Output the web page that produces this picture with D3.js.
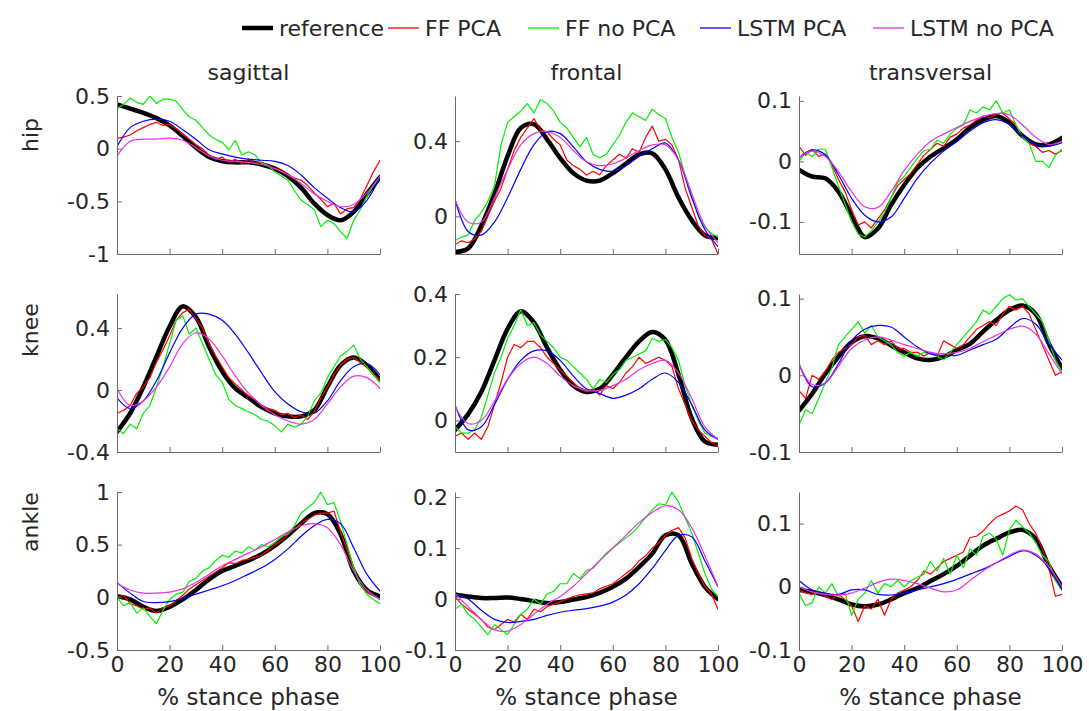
<!DOCTYPE html>
<html>
<head>
<meta charset="utf-8">
<script src="https://cdn.jsdelivr.net/npm/d3@7"></script>
<style>
  body { margin: 0; background: #fff; }
  text { font-family: "DejaVu Sans", sans-serif; fill: #262626; }
</style>
</head>
<body>
<svg id="fig" width="1089" height="711"></svg>
<script>
// ---- data ----
const pctCoarse = [0,5,10,15,20,25,30,35,40,45,50,55,60,65,70,75,80,85,90,95,100];
const pctFine = [0,2.5,5,7.5,10,12.5,15,17.5,20,22.5,25,27.5,30,32.5,35,37.5,40,42.5,45,47.5,50,
                 52.5,55,57.5,60,62.5,65,67.5,70,72.5,75,77.5,80,82.5,85,87.5,90,92.5,95,97.5,100];
const xTicks = [0,20,40,60,80,100];
const joints = ["hip","knee","ankle"];
const planes = ["sagittal","frontal","transversal"];
const methodNames = ["reference","FF PCA","FF no PCA","LSTM PCA","LSTM no PCA"];

// y limits and ticks per panel (row = joint, col = plane)
const yLimits = [[[-1,0.5],[-0.2,0.64],[-0.153,0.108]],
                 [[-0.4,0.62],[-0.1,0.4],[-0.1,0.106]],
                 [[-0.5,1],[-0.1,0.21],[-0.1,0.15]]];
const yTickVals = [[[-1,-0.5,0,0.5],[0,0.4],[-0.1,0,0.1]],
                   [[-0.4,0,0.4],[0,0.2,0.4],[-0.1,0,0.1]],
                   [[-0.5,0,0.5,1],[-0.1,0,0.1,0.2],[-0.1,0,0.1]]];

// hip sagittal
const hipSagRef = [0.42,0.38,0.34,0.29,0.22,0.12,0.01,-0.08,-0.12,-0.13,-0.13,-0.15,-0.19,-0.26,-0.37,-0.52,-0.63,-0.68,-0.6,-0.43,-0.27];
const hipSagLstmPca = [0.02,0.2,0.26,0.28,0.26,0.18,0.09,-0.01,-0.05,-0.08,-0.1,-0.11,-0.12,-0.16,-0.25,-0.37,-0.47,-0.56,-0.6,-0.49,-0.27];
const hipSagLstmNoPca = [-0.07,0.07,0.09,0.09,0.1,0.08,0.01,-0.07,-0.11,-0.12,-0.13,-0.15,-0.19,-0.25,-0.33,-0.43,-0.5,-0.55,-0.53,-0.42,-0.26];
const hipSagFfPca = [0.1,0.11,0.13,0.17,0.2,0.23,0.25,0.22,0.23,0.19,0.14,0.09,0.04,0.0,-0.06,-0.1,-0.08,-0.13,-0.1,-0.14,-0.1,
                     -0.14,-0.13,-0.16,-0.19,-0.2,-0.25,-0.28,-0.3,-0.35,-0.42,-0.48,-0.55,-0.52,-0.62,-0.57,-0.56,-0.48,-0.35,-0.22,-0.11];
const hipSagFfNoPca = [0.38,0.42,0.48,0.44,0.42,0.5,0.43,0.47,0.47,0.45,0.37,0.3,0.27,0.2,0.13,0.09,0.06,-0.01,0.08,-0.06,-0.03,
                       -0.06,-0.14,-0.16,-0.22,-0.26,-0.3,-0.4,-0.49,-0.53,-0.58,-0.74,-0.68,-0.71,-0.79,-0.85,-0.68,-0.58,-0.45,-0.35,-0.27];

// hip frontal
const hipFroRef = [-0.19,-0.17,-0.05,0.12,0.32,0.47,0.49,0.41,0.31,0.23,0.19,0.19,0.23,0.28,0.33,0.335,0.25,0.1,-0.02,-0.1,-0.115];
const hipFroLstmPca = [0.09,-0.08,-0.1,-0.03,0.1,0.25,0.38,0.45,0.44,0.37,0.29,0.25,0.24,0.27,0.32,0.36,0.39,0.3,0.1,-0.07,-0.16];
const hipFroLstmNoPca = [0.09,-0.03,-0.03,0.1,0.25,0.38,0.44,0.45,0.42,0.35,0.29,0.27,0.28,0.31,0.35,0.38,0.38,0.3,0.12,-0.05,-0.14];
const hipFroFfPca = [-0.15,-0.13,-0.14,-0.12,-0.08,0.0,0.08,0.15,0.25,0.35,0.42,0.47,0.52,0.46,0.45,0.41,0.38,0.3,0.27,0.25,0.22,
                     0.24,0.22,0.27,0.3,0.33,0.31,0.36,0.34,0.42,0.48,0.4,0.41,0.38,0.3,0.15,0.05,-0.05,-0.1,-0.12,-0.2];
const hipFroFfNoPca = [-0.13,-0.11,-0.1,-0.02,0.02,0.08,0.16,0.38,0.5,0.53,0.56,0.6,0.55,0.62,0.6,0.56,0.5,0.47,0.42,0.37,0.42,
                       0.33,0.31,0.33,0.38,0.43,0.5,0.55,0.53,0.51,0.57,0.54,0.52,0.42,0.34,0.22,0.12,0.0,-0.06,-0.09,-0.11];

// hip transversal
const hipTraRef = [-0.014,-0.025,-0.028,-0.05,-0.089,-0.125,-0.111,-0.072,-0.039,-0.011,0.008,0.022,0.036,0.056,0.069,0.075,0.064,0.042,0.028,0.028,0.039];
const hipTraLstmPca = [0.006,0.019,0.011,-0.022,-0.061,-0.089,-0.1,-0.092,-0.061,-0.028,-0.003,0.017,0.033,0.05,0.064,0.069,0.061,0.042,0.028,0.025,0.031];
const hipTraLstmNoPca = [0.006,0.017,0.008,-0.017,-0.05,-0.075,-0.076,-0.05,-0.015,0.012,0.033,0.045,0.056,0.066,0.074,0.079,0.077,0.06,0.04,0.028,0.033];
const hipTraFfPca = [0.025,0.01,0.02,0.008,0.012,-0.005,-0.03,-0.05,-0.08,-0.105,-0.1,-0.11,-0.095,-0.08,-0.06,-0.04,-0.03,-0.02,-0.005,0.01,0.02,
                     0.03,0.025,0.04,0.045,0.055,0.06,0.068,0.075,0.072,0.078,0.08,0.07,0.06,0.04,0.03,0.025,0.015,0.018,0.012,0.018];
const hipTraFfNoPca = [0.0,0.015,0.008,0.02,0.02,-0.01,-0.04,-0.07,-0.1,-0.12,-0.125,-0.115,-0.1,-0.085,-0.06,-0.035,-0.025,-0.01,0.005,0.018,0.02,
                       0.035,0.03,0.045,0.055,0.06,0.085,0.08,0.09,0.085,0.1,0.08,0.085,0.06,0.04,0.03,0.0,0.0,-0.01,0.01,0.02];

// knee sagittal
const kneeSagRef = [-0.27,-0.15,0.02,0.215,0.41,0.54,0.47,0.28,0.12,0.01,-0.05,-0.11,-0.15,-0.17,-0.17,-0.13,0.02,0.16,0.21,0.16,0.065];
const kneeSagLstmPca = [-0.05,-0.12,-0.07,0.06,0.24,0.4,0.49,0.49,0.45,0.36,0.24,0.11,-0.01,-0.09,-0.14,-0.15,-0.07,0.06,0.15,0.17,0.1];
const kneeSagLstmNoPca = [0.01,-0.1,-0.07,0.02,0.15,0.3,0.37,0.33,0.22,0.09,-0.02,-0.1,-0.16,-0.2,-0.22,-0.19,-0.09,0.02,0.09,0.08,0.01];
const kneeSagFfPca = [-0.15,-0.13,-0.1,-0.02,0.02,0.08,0.18,0.26,0.35,0.45,0.5,0.52,0.46,0.4,0.3,0.22,0.15,0.08,0.04,0.0,-0.04,
                      -0.06,-0.1,-0.12,-0.13,-0.16,-0.15,-0.18,-0.16,-0.19,-0.14,-0.05,0.02,0.1,0.16,0.2,0.21,0.18,0.15,0.1,0.07];
const kneeSagFfNoPca = [-0.25,-0.28,-0.22,-0.25,-0.15,-0.1,0.02,0.15,0.3,0.45,0.48,0.36,0.4,0.3,0.2,0.1,0.05,-0.06,-0.1,-0.12,-0.14,
                        -0.16,-0.19,-0.2,-0.23,-0.27,-0.22,-0.24,-0.22,-0.17,-0.07,-0.02,0.08,0.15,0.22,0.25,0.29,0.2,0.15,0.1,0.05];

// knee frontal
const kneeFroRef = [-0.03,0.02,0.09,0.19,0.29,0.345,0.31,0.23,0.16,0.11,0.09,0.1,0.145,0.2,0.25,0.28,0.255,0.145,0.007,-0.067,-0.077];
const kneeFroLstmPca = [0.05,-0.03,-0.02,0.05,0.13,0.19,0.22,0.22,0.19,0.14,0.1,0.085,0.07,0.08,0.1,0.13,0.15,0.12,0.05,-0.03,-0.06];
const kneeFroLstmNoPca = [0.045,-0.01,0.0,0.06,0.13,0.18,0.2,0.18,0.14,0.11,0.095,0.095,0.11,0.13,0.16,0.18,0.19,0.15,0.07,-0.02,-0.06];
const kneeFroFfPca = [-0.05,-0.04,-0.06,-0.04,-0.06,-0.02,0.05,0.12,0.2,0.24,0.23,0.25,0.25,0.23,0.2,0.18,0.16,0.14,0.12,0.1,0.09,
                      0.1,0.08,0.11,0.1,0.12,0.15,0.17,0.2,0.18,0.19,0.2,0.19,0.17,0.1,0.05,0.0,-0.03,-0.05,-0.07,-0.08];
const kneeFroFfNoPca = [-0.02,-0.04,-0.04,-0.03,0.01,0.08,0.15,0.2,0.26,0.3,0.35,0.3,0.31,0.27,0.25,0.23,0.2,0.19,0.17,0.15,0.13,
                        0.1,0.13,0.12,0.145,0.16,0.19,0.2,0.21,0.22,0.26,0.25,0.256,0.23,0.19,0.11,0.05,0.0,-0.04,-0.05,-0.056];

// knee transversal
const kneeTraRef = [-0.046,-0.024,0.002,0.024,0.043,0.051,0.048,0.039,0.03,0.022,0.02,0.024,0.033,0.041,0.057,0.072,0.085,0.091,0.08,0.041,0.009];
const kneeTraLstmPca = [0.015,-0.015,-0.01,0.015,0.045,0.06,0.065,0.063,0.05,0.037,0.028,0.026,0.026,0.033,0.04,0.047,0.062,0.074,0.067,0.041,0.02];
const kneeTraLstmNoPca = [0.015,-0.012,-0.01,0.012,0.035,0.046,0.05,0.046,0.04,0.035,0.03,0.028,0.03,0.035,0.044,0.052,0.06,0.064,0.054,0.028,0.002];
const kneeTraFfPca = [-0.02,-0.03,0.0,-0.005,0.005,0.02,0.03,0.035,0.04,0.05,0.052,0.04,0.045,0.04,0.045,0.035,0.035,0.03,0.03,0.025,0.03,
                      0.025,0.045,0.04,0.035,0.04,0.05,0.06,0.065,0.07,0.065,0.08,0.09,0.085,0.09,0.08,0.06,0.04,0.02,0.0,0.005];
const kneeTraFfNoPca = [-0.065,-0.045,-0.05,-0.03,-0.01,0.01,0.04,0.05,0.06,0.07,0.055,0.065,0.05,0.045,0.04,0.03,0.025,0.03,0.025,0.03,0.028,
                        0.025,0.02,0.03,0.04,0.05,0.06,0.07,0.085,0.08,0.09,0.1,0.105,0.098,0.1,0.09,0.08,0.07,0.045,0.02,0.005];

// ankle sagittal
const ankSagRef = [0.01,-0.02,-0.09,-0.13,-0.09,-0.02,0.07,0.17,0.25,0.3,0.35,0.41,0.49,0.59,0.7,0.8,0.79,0.6,0.25,0.07,0.01];
const ankSagLstmPca = [0.14,0.04,-0.04,-0.05,-0.04,-0.01,0.03,0.07,0.11,0.16,0.22,0.28,0.36,0.46,0.58,0.68,0.74,0.7,0.47,0.22,0.06];
const ankSagLstmNoPca = [0.13,0.07,0.04,0.04,0.05,0.08,0.14,0.22,0.3,0.36,0.42,0.48,0.55,0.62,0.68,0.7,0.66,0.5,0.25,0.07,-0.02];
const ankSagFfPca = [0.0,0.02,-0.06,-0.08,-0.11,-0.1,-0.15,-0.1,-0.08,-0.03,0.02,0.08,0.12,0.16,0.2,0.24,0.28,0.33,0.32,0.35,0.36,
                     0.38,0.4,0.45,0.5,0.54,0.6,0.65,0.7,0.74,0.78,0.8,0.8,0.82,0.62,0.45,0.28,0.12,0.05,0.02,-0.02];
const ankSagFfNoPca = [0.0,-0.08,-0.05,-0.15,-0.1,-0.18,-0.25,-0.12,-0.02,0.03,0.05,0.15,0.18,0.25,0.28,0.35,0.4,0.38,0.44,0.42,0.48,
                       0.45,0.5,0.48,0.52,0.58,0.6,0.68,0.8,0.85,0.9,1.0,0.88,0.9,0.72,0.5,0.28,0.12,0.03,-0.02,-0.06];

// ankle frontal
const ankFroRef = [0.009,0.005,0.002,0.002,0.003,0.0,-0.004,-0.008,-0.006,-0.001,0.004,0.012,0.024,0.04,0.063,0.089,0.125,0.125,0.07,0.024,0.0];
const ankFroLstmPca = [0.01,0.0,-0.022,-0.04,-0.046,-0.044,-0.04,-0.032,-0.026,-0.022,-0.019,-0.014,-0.006,0.008,0.03,0.06,0.095,0.125,0.122,0.075,0.024];
const ankFroLstmNoPca = [0.01,-0.015,-0.04,-0.06,-0.063,-0.05,-0.03,-0.01,0.005,0.025,0.05,0.075,0.1,0.125,0.15,0.17,0.183,0.175,0.14,0.085,0.025];
const ankFroFfPca = [0.005,-0.01,-0.02,-0.03,-0.04,-0.055,-0.06,-0.05,-0.04,-0.045,-0.03,-0.04,-0.02,-0.025,-0.015,-0.01,-0.005,0.0,0.005,0.008,0.01,
                     0.012,0.02,0.025,0.03,0.04,0.05,0.06,0.075,0.085,0.1,0.11,0.125,0.135,0.14,0.12,0.08,0.05,0.025,0.01,-0.02];
const ankFroFfNoPca = [-0.02,-0.01,-0.03,-0.04,-0.055,-0.07,-0.05,-0.06,-0.07,-0.05,-0.03,-0.02,0.0,-0.01,0.01,0.015,0.03,0.03,0.05,0.04,0.056,
                       0.06,0.076,0.09,0.1,0.11,0.12,0.13,0.144,0.16,0.175,0.187,0.185,0.21,0.19,0.16,0.13,0.09,0.05,0.02,0.005];

// ankle transversal
const ankTraRef = [-0.005,-0.008,-0.013,-0.02,-0.028,-0.031,-0.028,-0.02,-0.01,-0.002,0.009,0.02,0.033,0.049,0.065,0.076,0.086,0.09,0.076,0.033,0.0];
const ankTraLstmPca = [0.01,-0.005,-0.01,-0.012,-0.005,-0.005,-0.012,-0.013,-0.01,-0.005,0.0,0.005,0.012,0.02,0.028,0.038,0.048,0.057,0.05,0.03,-0.005];
const ankTraLstmNoPca = [0.0,-0.008,-0.012,-0.013,-0.01,-0.002,0.007,0.012,0.01,0.005,-0.002,-0.008,-0.005,0.01,0.025,0.038,0.05,0.058,0.052,0.032,0.0];
const ankTraFfPca = [-0.005,-0.01,-0.012,-0.008,-0.015,-0.02,-0.012,-0.02,-0.03,-0.055,-0.03,-0.035,-0.02,-0.045,-0.02,-0.01,-0.005,0.0,0.01,0.025,0.02,
                     0.03,0.04,0.045,0.05,0.055,0.078,0.08,0.088,0.1,0.11,0.115,0.12,0.128,0.122,0.1,0.085,0.06,0.03,-0.015,-0.012];
const ankTraFfNoPca = [-0.01,-0.03,-0.025,0.0,-0.01,0.005,-0.015,-0.01,-0.045,-0.02,-0.01,0.01,-0.01,0.005,0.0,0.01,0.0,0.01,0.015,0.02,0.04,
                       0.025,0.045,0.02,0.05,0.03,0.06,0.05,0.08,0.085,0.075,0.05,0.09,0.105,0.095,0.085,0.07,0.05,0.04,0.01,-0.005];

// per panel, in legend order: reference, FF PCA, FF no PCA, LSTM PCA, LSTM no PCA
const panelSeries = [
  [[hipSagRef,hipSagFfPca,hipSagFfNoPca,hipSagLstmPca,hipSagLstmNoPca],
   [hipFroRef,hipFroFfPca,hipFroFfNoPca,hipFroLstmPca,hipFroLstmNoPca],
   [hipTraRef,hipTraFfPca,hipTraFfNoPca,hipTraLstmPca,hipTraLstmNoPca]],
  [[kneeSagRef,kneeSagFfPca,kneeSagFfNoPca,kneeSagLstmPca,kneeSagLstmNoPca],
   [kneeFroRef,kneeFroFfPca,kneeFroFfNoPca,kneeFroLstmPca,kneeFroLstmNoPca],
   [kneeTraRef,kneeTraFfPca,kneeTraFfNoPca,kneeTraLstmPca,kneeTraLstmNoPca]],
  [[ankSagRef,ankSagFfPca,ankSagFfNoPca,ankSagLstmPca,ankSagLstmNoPca],
   [ankFroRef,ankFroFfPca,ankFroFfNoPca,ankFroLstmPca,ankFroLstmNoPca],
   [ankTraRef,ankTraFfPca,ankTraFfNoPca,ankTraLstmPca,ankTraLstmNoPca]]
];

// ---- styling / layout ----
const styles = [
  {color: "#000000", width: 4.5, smooth: true},
  {color: "#ff0000", width: 1.2, smooth: false},
  {color: "#00ee00", width: 1.2, smooth: false},
  {color: "#0000ff", width: 1.2, smooth: true},
  {color: "#e633e6", width: 1.2, smooth: true}
];
const colLeft = [117, 455, 799];
const rowTop = [96, 294, 492];
const axW = 263, axH = 158;
const tickFont = 22;
const labelFont = 22;

const svg = d3.select("#fig");

joints.forEach(function(joint, r) {
  planes.forEach(function(plane, c) {
    const g = svg.append("g").attr("transform", `translate(${colLeft[c]},${rowTop[r]})`);
    const x = d3.scaleLinear().domain([0, 100]).range([0, axW]);
    const y = d3.scaleLinear().domain(yLimits[r][c]).range([axH, 0]);

    const clipId = `clip-${r}-${c}`;
    g.append("clipPath").attr("id", clipId)
      .append("rect").attr("x", 0).attr("y", 0).attr("width", axW).attr("height", axH);

    const plot = g.append("g").attr("clip-path", `url(#${clipId})`);
    panelSeries[r][c].forEach(function(vals, k) {
      const st = styles[k];
      const xs = vals.length === pctCoarse.length ? pctCoarse : pctFine;
      const line = d3.line()
        .x((d, i) => x(xs[i]))
        .y(d => y(d))
        .curve(st.smooth ? d3.curveCatmullRom.alpha(0.5) : d3.curveLinear);
      plot.append("path")
        .datum(vals)
        .attr("fill", "none")
        .attr("stroke", st.color)
        .attr("stroke-width", st.width)
        .attr("stroke-linejoin", "round")
        .attr("stroke-linecap", "round")
        .attr("d", line);
    });

    // axes (box off, ticks pointing in)
    const yAxis = d3.axisLeft(y).tickValues(yTickVals[r][c])
      .tickSizeInner(-5).tickSizeOuter(0).tickPadding(7)
      .tickFormat(d => String(d));
    const xAxis = d3.axisBottom(x).tickValues(xTicks)
      .tickSizeInner(-5).tickSizeOuter(0).tickPadding(6)
      .tickFormat(r === 2 ? (d => String(d)) : () => "");

    const ya = g.append("g").call(yAxis);
    const xa = g.append("g").attr("transform", `translate(0,${axH})`).call(xAxis);
    [ya, xa].forEach(function(a) {
      a.select(".domain").attr("stroke", "#6b6b6b").attr("stroke-width", 1);
      a.selectAll(".tick line").attr("stroke", "#6b6b6b");
      a.selectAll(".tick text").attr("font-size", tickFont).attr("fill", "#262626")
        .attr("font-family", "DejaVu Sans, sans-serif");
    });

    if (r === 0) {
      g.append("text").attr("x", axW / 2).attr("y", -16)
        .attr("text-anchor", "middle").attr("font-size", labelFont).text(plane);
    }
    if (r === 2) {
      g.append("text").attr("x", axW / 2).attr("y", axH + 55)
        .attr("text-anchor", "middle").attr("font-size", 23).text("% stance phase");
    }
  });
});

// row labels
const rowLabelY = [135, 330, 522];
joints.forEach(function(joint, r) {
  svg.append("text")
    .attr("transform", `translate(38,${rowLabelY[r]}) rotate(-90)`)
    .attr("text-anchor", "middle").attr("font-size", labelFont).text(joint);
});

// legend, text start positions taken from the figure
const legendTextX = [279, 425, 565, 737, 910];
const legend = svg.append("g");
const ly = 28;
methodNames.forEach(function(name, k) {
  const tx = legendTextX[k];
  legend.append("line")
    .attr("x1", tx - 37).attr("x2", tx - 6).attr("y1", ly).attr("y2", ly)
    .attr("stroke", styles[k].color).attr("stroke-width", k === 0 ? 4.5 : 1.3);
  legend.append("text").attr("x", tx).attr("y", ly + 8)
    .attr("font-size", 22).text(name);
});
</script>
</body>
</html>
